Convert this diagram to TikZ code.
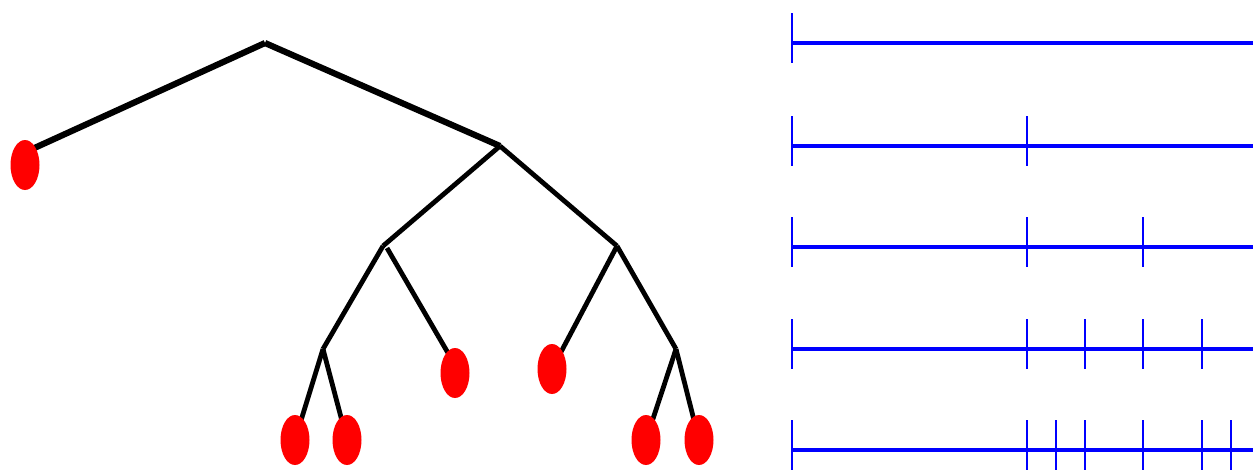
\documentclass[tikz,border=0pt]{standalone}
\usetikzlibrary{shapes.geometric}
\begin{document}
\begin{tikzpicture}[x=1pt,y=-1pt,
  leaf/.style={ellipse,fill=red,draw=none,minimum width=29pt,minimum height=50pt,inner sep=0pt},
  edgeA/.style={line width=6.2pt,black},
  edgeB/.style={line width=4.8pt,black},
  axis/.style={blue,line width=3.4pt},
  tick/.style={blue,line width=2.2pt}]
\useasboundingbox (0,0) rectangle (1253,469);
% internal nodes
\coordinate (r) at (265,43);
\coordinate (a) at (500,146);
\coordinate (b) at (383,246);
\coordinate (b2) at (387,248);
\coordinate (c) at (617,246);
\coordinate (d) at (323,349);
\coordinate (e) at (676,349);
\coordinate (t1) at (30,150);
% edges
\draw[edgeA] (r) -- (t1);
\draw[edgeA] (r) -- (a);
\draw[edgeB] (a) -- (b);
\draw[edgeB] (a) -- (c);
\draw[edgeB] (b) -- (d);
\draw[edgeB] (b2) -- (455,365);
\draw[edgeB] (c) -- (552,369);
\draw[edgeB] (c) -- (e);
\draw[edgeB] (d) -- (295,440);
\draw[edgeB] (d) -- (347,440);
\draw[edgeB] (e) -- (646,440);
\draw[edgeB] (e) -- (699,440);
% leaves
\node[leaf] (l1) at (25,165) {};
\node[leaf] (l2) at (455,373) {};
\node[leaf] (l3) at (552,369) {};
\node[leaf] (l4) at (295,440) {};
\node[leaf] (l5) at (347,440) {};
\node[leaf] (l6) at (646,440) {};
\node[leaf] (l7) at (699,440) {};
% blue rows
\foreach \y/\ticks in {43/{792},146/{792,1027},247/{792,1027,1143},349/{792,1027,1085,1143,1202},450/{792,1027,1056,1085,1143,1202,1231}}{
  \draw[axis] (792,\y) -- (1253,\y);
  \foreach \t in \ticks { \draw[tick] (\t,\y-30) -- (\t,\y+20); }
}
\end{tikzpicture}
\end{document}
